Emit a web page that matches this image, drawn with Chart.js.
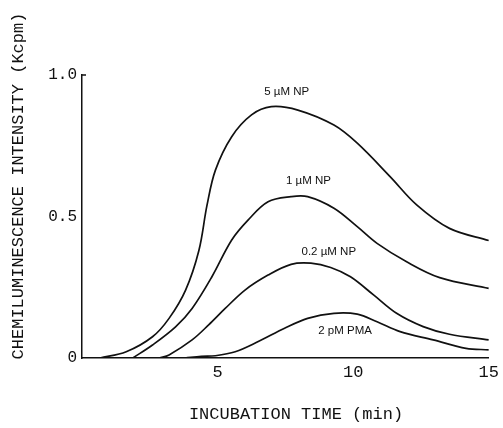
<!DOCTYPE html>
<html lang="en">
	<head>
		<meta charset="UTF-8" />
		<title>Chemiluminescence</title>
		<style>
			html, body { margin: 0; padding: 0; background: #fff; }
			#chartContainer { position: relative; width: 503px; height: 428px; }
		</style>
	</head>
	<body>
		<div id="chartContainer">
			<canvas id="myChart"></canvas>
		</div>
	</body>
	<script src="https://cdn.jsdelivr.net/npm/chart.js"></script>
	<script>
		// values (time in min, intensity in Kcpm)
		const np5Time = [0.66, 1.63, 2.6, 3.21, 3.82, 4.31, 4.61, 4.92, 5.52, 6.25, 6.98, 7.96, 9.29, 10.15, 11.36, 12.34, 13.55, 15];
		const np5Value = [0, 0.022, 0.075, 0.14, 0.24, 0.38, 0.54, 0.664, 0.782, 0.859, 0.888, 0.876, 0.823, 0.759, 0.641, 0.541, 0.458, 0.415];

		const np1Time = [1.87, 2.6, 3.45, 4.06, 4.79, 5.52, 6.13, 6.86, 7.71, 8.32, 9.29, 10.15, 10.88, 11.97, 13.19, 15];
		const np1Value = [0, 0.046, 0.11, 0.175, 0.287, 0.417, 0.488, 0.552, 0.57, 0.57, 0.529, 0.464, 0.405, 0.34, 0.284, 0.246];

		const np02Time = [2.85, 3.21, 4.06, 4.67, 5.28, 6.01, 6.86, 7.71, 8.44, 9.17, 9.9, 10.75, 11.6, 12.58, 13.55, 15];
		const np02Value = [0, 0.011, 0.064, 0.117, 0.175, 0.24, 0.293, 0.331, 0.335, 0.32, 0.287, 0.223, 0.158, 0.111, 0.084, 0.064];

		const pmaTime = [3.8, 4.4, 4.92, 5.65, 6.5, 7.47, 8.32, 9.29, 10.15, 10.88, 11.73, 12.95, 14.16, 15];
		const pmaValue = [0, 0.006, 0.008, 0.022, 0.058, 0.105, 0.14, 0.158, 0.155, 0.128, 0.093, 0.064, 0.034, 0.029];

		const seriesNames = ['5 \u00b5M NP', '1 \u00b5M NP', '0.2 \u00b5M NP', '2 pM PMA'];
		const labelTime = [7.55, 8.35, 9.1, 9.7];
		const labelValue = [0.94, 0.625, 0.375, 0.095];

		const yTicks = [0, 0.5, 1.0];
		const xTicks = [5, 10, 15];

		function toPoints(xs, ys) {
			return xs.map((x, i) => ({ x: x, y: ys[i] }));
		}

		const seriesData = [
			toPoints(np5Time, np5Value),
			toPoints(np1Time, np1Value),
			toPoints(np02Time, np02Value),
			toPoints(pmaTime, pmaValue),
		];

		// axis titles, curve labels and the little top tick
		const textPlugin = {
			id: 'texts',
			afterDraw(chart) {
				const ctx = chart.ctx;
				const xs = chart.scales.x;
				const ys = chart.scales.y;
				ctx.save();
				ctx.strokeStyle = '#111';
				ctx.lineWidth = 1.5;
				ctx.beginPath();
				ctx.moveTo(xs.left, ys.getPixelForValue(1));
				ctx.lineTo(xs.left + 4, ys.getPixelForValue(1));
				ctx.stroke();

				ctx.fillStyle = '#111';
				ctx.font = '11.5px "Liberation Sans", Arial, sans-serif';
				ctx.textAlign = 'center';
				ctx.textBaseline = 'middle';
				seriesNames.forEach((name, i) => {
					ctx.fillText(name, xs.getPixelForValue(labelTime[i]), ys.getPixelForValue(labelValue[i]));
				});

				ctx.font = '17px "Liberation Mono", monospace';
				ctx.fillText('INCUBATION TIME (min)', 296, 414);

				ctx.translate(18, 186);
				ctx.rotate(-Math.PI / 2);
				ctx.fillText('CHEMILUMINESCENCE INTENSITY (Kcpm)', 0, 0);
				ctx.restore();
			},
		};

		const data = {
			datasets: seriesData.map((pts, i) => ({
				label: seriesNames[i],
				data: pts,
				borderColor: '#111',
				borderWidth: 1.7,
				pointRadius: 0,
				fill: false,
				tension: 0.35,
			})),
		};

		const config = {
			type: 'line',
			data,
			options: {
				responsive: true,
				maintainAspectRatio: false,
				animation: false,
				layout: { padding: { left: 0, top: 75, right: 10, bottom: 0 } },
				plugins: { legend: { display: false }, tooltip: { enabled: false } },
				scales: {
					x: {
						type: 'linear',
						min: 0,
						max: 15,
						afterBuildTicks: (s) => { s.ticks = xTicks.map((v) => ({ value: v })); },
						afterFit: (s) => { s.height = 70; },
						grid: { display: false, drawTicks: false },
						border: { color: '#111', width: 1.5 },
						ticks: {
							color: '#111',
							padding: 4,
							font: { family: '"Liberation Mono", monospace', size: 17 },
							callback: (v) => String(v),
						},
					},
					y: {
						min: 0,
						max: 1,
						afterBuildTicks: (s) => { s.ticks = yTicks.map((v) => ({ value: v })); },
						afterFit: (s) => { s.width = 82; },
						grid: { display: false, drawTicks: false },
						border: { color: '#111', width: 1.5 },
						ticks: {
							color: '#111',
							padding: 5,
							font: { family: '"Liberation Mono", monospace', size: 16 },
							callback: (v) => (v === 0 ? '0' : v.toFixed(1)),
						},
					},
				},
			},
			plugins: [textPlugin],
		};

		new Chart(document.getElementById('myChart'), config);
	</script>
</html>
